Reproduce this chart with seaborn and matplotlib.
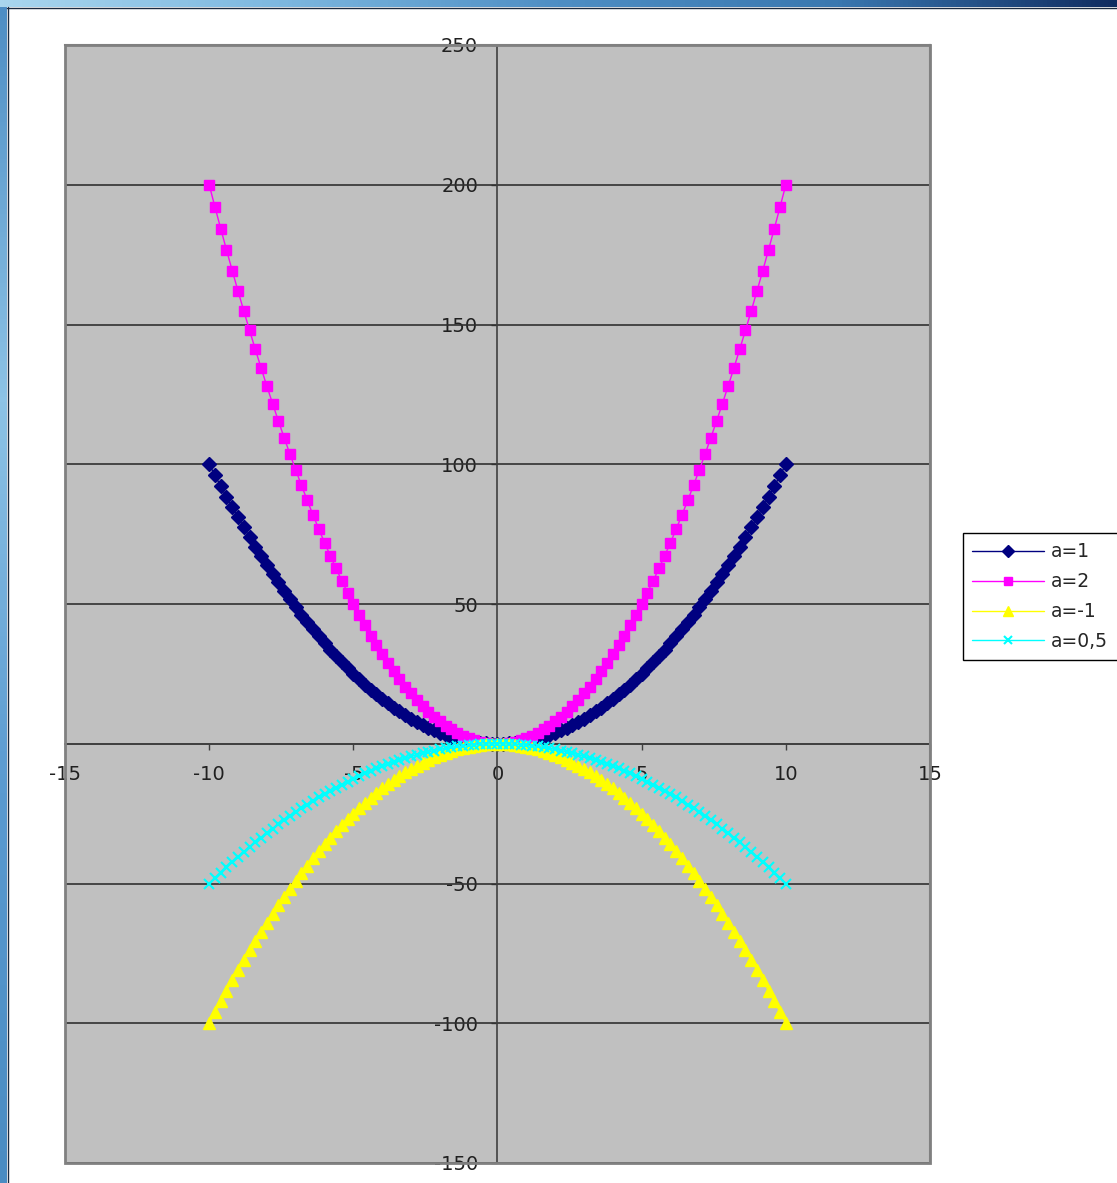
import numpy as np
import pandas as pd
import seaborn as sns
import matplotlib.pyplot as plt
from matplotlib.patches import Rectangle
from matplotlib.colors import LinearSegmentedColormap

# x values, step 0.2 from -10 to 10
x = [-10, -9.8, -9.6, -9.4, -9.2, -9, -8.8, -8.6, -8.4, -8.2,
     -8, -7.8, -7.6, -7.4, -7.2, -7, -6.8, -6.6, -6.4, -6.2,
     -6, -5.8, -5.6, -5.4, -5.2, -5, -4.8, -4.6, -4.4, -4.2,
     -4, -3.8, -3.6, -3.4, -3.2, -3, -2.8, -2.6, -2.4, -2.2,
     -2, -1.8, -1.6, -1.4, -1.2, -1, -0.8, -0.6, -0.4, -0.2,
     0,
     0.2, 0.4, 0.6, 0.8, 1, 1.2, 1.4, 1.6, 1.8, 2,
     2.2, 2.4, 2.6, 2.8, 3, 3.2, 3.4, 3.6, 3.8, 4,
     4.2, 4.4, 4.6, 4.8, 5, 5.2, 5.4, 5.6, 5.8, 6,
     6.2, 6.4, 6.6, 6.8, 7, 7.2, 7.4, 7.6, 7.8, 8,
     8.2, 8.4, 8.6, 8.8, 9, 9.2, 9.4, 9.6, 9.8, 10]

y_a1 = [100, 96.04, 92.16, 88.36, 84.64, 81, 77.44, 73.96, 70.56, 67.24,
        64, 60.84, 57.76, 54.76, 51.84, 49, 46.24, 43.56, 40.96, 38.44,
        36, 33.64, 31.36, 29.16, 27.04, 25, 23.04, 21.16, 19.36, 17.64,
        16, 14.44, 12.96, 11.56, 10.24, 9, 7.84, 6.76, 5.76, 4.84,
        4, 3.24, 2.56, 1.96, 1.44, 1, 0.64, 0.36, 0.16, 0.04,
        0,
        0.04, 0.16, 0.36, 0.64, 1, 1.44, 1.96, 2.56, 3.24, 4,
        4.84, 5.76, 6.76, 7.84, 9, 10.24, 11.56, 12.96, 14.44, 16,
        17.64, 19.36, 21.16, 23.04, 25, 27.04, 29.16, 31.36, 33.64, 36,
        38.44, 40.96, 43.56, 46.24, 49, 51.84, 54.76, 57.76, 60.84, 64,
        67.24, 70.56, 73.96, 77.44, 81, 84.64, 88.36, 92.16, 96.04, 100]

y_a2 = [200, 192.08, 184.32, 176.72, 169.28, 162, 154.88, 147.92, 141.12, 134.48,
        128, 121.68, 115.52, 109.52, 103.68, 98, 92.48, 87.12, 81.92, 76.88,
        72, 67.28, 62.72, 58.32, 54.08, 50, 46.08, 42.32, 38.72, 35.28,
        32, 28.88, 25.92, 23.12, 20.48, 18, 15.68, 13.52, 11.52, 9.68,
        8, 6.48, 5.12, 3.92, 2.88, 2, 1.28, 0.72, 0.32, 0.08,
        0,
        0.08, 0.32, 0.72, 1.28, 2, 2.88, 3.92, 5.12, 6.48, 8,
        9.68, 11.52, 13.52, 15.68, 18, 20.48, 23.12, 25.92, 28.88, 32,
        35.28, 38.72, 42.32, 46.08, 50, 54.08, 58.32, 62.72, 67.28, 72,
        76.88, 81.92, 87.12, 92.48, 98, 103.68, 109.52, 115.52, 121.68, 128,
        134.48, 141.12, 147.92, 154.88, 162, 169.28, 176.72, 184.32, 192.08, 200]

y_am1 = [-100, -96.04, -92.16, -88.36, -84.64, -81, -77.44, -73.96, -70.56, -67.24,
         -64, -60.84, -57.76, -54.76, -51.84, -49, -46.24, -43.56, -40.96, -38.44,
         -36, -33.64, -31.36, -29.16, -27.04, -25, -23.04, -21.16, -19.36, -17.64,
         -16, -14.44, -12.96, -11.56, -10.24, -9, -7.84, -6.76, -5.76, -4.84,
         -4, -3.24, -2.56, -1.96, -1.44, -1, -0.64, -0.36, -0.16, -0.04,
         0,
         -0.04, -0.16, -0.36, -0.64, -1, -1.44, -1.96, -2.56, -3.24, -4,
         -4.84, -5.76, -6.76, -7.84, -9, -10.24, -11.56, -12.96, -14.44, -16,
         -17.64, -19.36, -21.16, -23.04, -25, -27.04, -29.16, -31.36, -33.64, -36,
         -38.44, -40.96, -43.56, -46.24, -49, -51.84, -54.76, -57.76, -60.84, -64,
         -67.24, -70.56, -73.96, -77.44, -81, -84.64, -88.36, -92.16, -96.04, -100]

y_a05 = [-50, -48.02, -46.08, -44.18, -42.32, -40.5, -38.72, -36.98, -35.28, -33.62,
         -32, -30.42, -28.88, -27.38, -25.92, -24.5, -23.12, -21.78, -20.48, -19.22,
         -18, -16.82, -15.68, -14.58, -13.52, -12.5, -11.52, -10.58, -9.68, -8.82,
         -8, -7.22, -6.48, -5.78, -5.12, -4.5, -3.92, -3.38, -2.88, -2.42,
         -2, -1.62, -1.28, -0.98, -0.72, -0.5, -0.32, -0.18, -0.08, -0.02,
         0,
         -0.02, -0.08, -0.18, -0.32, -0.5, -0.72, -0.98, -1.28, -1.62, -2,
         -2.42, -2.88, -3.38, -3.92, -4.5, -5.12, -5.78, -6.48, -7.22, -8,
         -8.82, -9.68, -10.58, -11.52, -12.5, -13.52, -14.58, -15.68, -16.82, -18,
         -19.22, -20.48, -21.78, -23.12, -24.5, -25.92, -27.38, -28.88, -30.42, -32,
         -33.62, -35.28, -36.98, -38.72, -40.5, -42.32, -44.18, -46.08, -48.02, -50]

labels = ['a=1', 'a=2', 'a=-1', 'a=0,5']
x_ticks = [-15, -10, -5, 0, 5, 10, 15]
y_ticks = [-150, -100, -50, 0, 50, 100, 150, 200, 250]

sns.set_style("white")
plt.rcParams['font.family'] = ['DejaVu Sans']
plt.rcParams['axes.unicode_minus'] = False

fig = plt.figure(figsize=(11.17, 11.83), dpi=100)
ax = fig.add_axes([65/1117, 20/1183, 865/1117, 1118/1183])
ax.set_facecolor('#C0C0C0')

series = [
    (y_a1, labels[0], '#000080', 'D', 7, 1.0),
    (y_a2, labels[1], '#FF00FF', 's', 6.5, 1.0),
    (y_am1, labels[2], '#FFFF00', '^', 8.5, 1.0),
    (y_a05, labels[3], '#00FFFF', 'x', 6.5, 1.5),
]
for ys, lab, col, mk, ms, mew in series:
    sns.lineplot(x=x, y=ys, ax=ax, color=col, marker=mk, markersize=ms,
                 markeredgecolor=col, markeredgewidth=mew, linewidth=1.0,
                 label=lab, sort=False, zorder=3)

ax.set_xlim(-15, 15)
ax.set_ylim(-150, 250)
ax.set_xticks(x_ticks)
ax.set_yticks(y_ticks)

# horizontal gridlines
for yv in y_ticks:
    ax.axhline(yv, color='#303030', linewidth=1.2, zorder=1)

# axes crossing at the origin
ax.spines['left'].set_position(('data', 0))
ax.spines['bottom'].set_position(('data', 0))
for s in ['left', 'bottom']:
    ax.spines[s].set_color('#404040')
    ax.spines[s].set_linewidth(1.2)
    ax.spines[s].set_zorder(1.5)
for s in ['top', 'right']:
    ax.spines[s].set_color('#808080')
    ax.spines[s].set_linewidth(1.5)
ax.add_patch(Rectangle((0, 0), 1, 1, transform=ax.transAxes, fill=False,
                       edgecolor='#808080', linewidth=2, zorder=5, clip_on=False))

ax.tick_params(axis='x', direction='out', length=4, width=1, color='#404040',
               pad=11, labelsize=14, labelcolor='#202020', bottom=True)
ax.tick_params(axis='y', direction='out', length=4, width=1, color='#404040',
               pad=10, labelsize=14, labelcolor='#202020', left=True)
ax.set_xlabel('')
ax.set_ylabel('')

ax.legend(loc='upper left', bbox_to_anchor=(963/1117, (1183-533)/1183),
          bbox_transform=fig.transFigure, fontsize=13.5, frameon=True,
          fancybox=False, edgecolor='black', facecolor='white', framealpha=1,
          handlelength=3.8, labelspacing=0.58, borderpad=0.5, handletextpad=0.4,
          borderaxespad=0, markerscale=0.85)
ax.get_legend().get_frame().set_linewidth(1.0)

# window frame of the screenshot
top_cmap = LinearSegmentedColormap.from_list('top', ['#A9D6EE', '#7DB8E0', '#4E8EC4', '#3A78B0', '#102C60'])
ax_top = fig.add_axes([0, 1 - 7/1183, 1, 7/1183])
ax_top.imshow(np.linspace(0, 1, 256)[None, :], aspect='auto', cmap=top_cmap)
ax_top.axis('off')
left_cmap = LinearSegmentedColormap.from_list('left', ['#4E8EC4', '#8DC3E6', '#5A9AD0', '#4A8CC2'])
ax_left = fig.add_axes([0, 0, 7/1117, 1 - 7/1183])
ax_left.imshow(np.linspace(0, 1, 256)[:, None], aspect='auto', cmap=left_cmap)
ax_left.axis('off')
fig.add_artist(plt.Line2D([7/1117, 1], [1 - 7.5/1183, 1 - 7.5/1183], color='#1a2a40', linewidth=1))
fig.add_artist(plt.Line2D([7.5/1117, 7.5/1117], [0, 1 - 7/1183], color='#1a2a40', linewidth=1))

plt.savefig('out.png', dpi=100)
